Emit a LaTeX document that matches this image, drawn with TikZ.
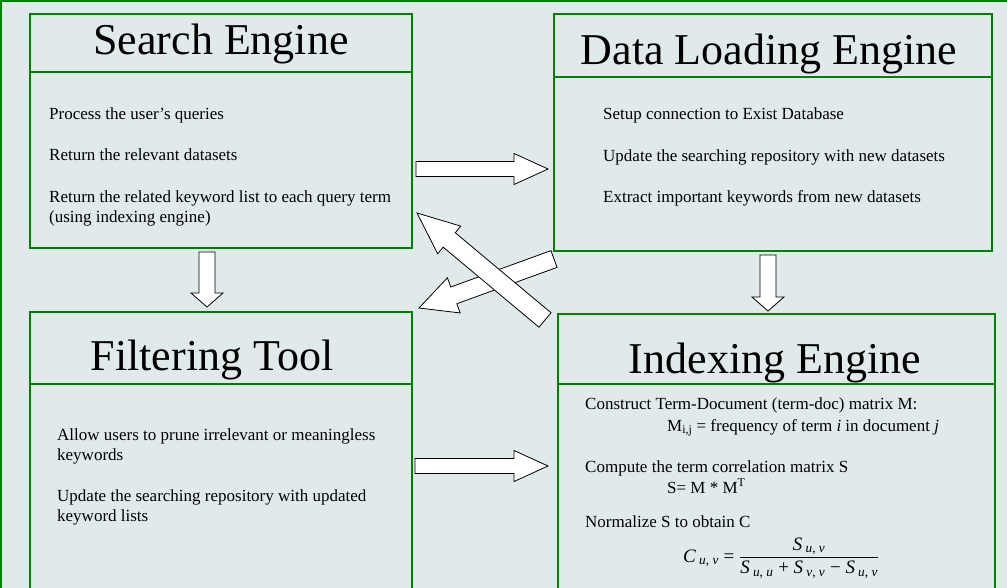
\documentclass[tikz,border=0pt]{standalone}
\usepackage{fontspec}
\setmainfont{Liberation Serif}
\usetikzlibrary{calc}

\definecolor{panel}{RGB}{225,234,235}
\definecolor{frame}{RGB}{0,128,0}

% italic symbol with italic subscript
\newcommand\subvar[3]{\textit{#1}\,\textsubscript{\textit{#2}, \textit{#3}}}

\tikzset{
    box/.style={draw=frame, line width=2.5pt, anchor=north west, inner sep=0pt, outer sep=0pt},
    heading/.style={font=\fontsize{44}{50}\selectfont, anchor=base, inner sep=0pt},
    item/.style={font=\fontsize{17}{20}\selectfont, anchor=base west, align=left, inner sep=0pt},
    blockarrow/.style n args={3}{draw=black, fill=white, line width=0.8pt, line join=miter,
        to path={let \p1=(\tikztostart), \p2=(\tikztotarget),
            \n1={atan2(\y2-\y1,\x2-\x1)} in
            ($(\p1)+(\n1+90:#1)$) -- ($(\p2)+(\n1+180:#3)+(\n1+90:#1)$)
            -- ($(\p2)+(\n1+180:#3)+(\n1+90:#2)$) -- (\p2)
            -- ($(\p2)+(\n1+180:#3)+(\n1-90:#2)$) -- ($(\p2)+(\n1+180:#3)+(\n1-90:#1)$)
            -- ($(\p1)+(\n1-90:#1)$) -- cycle}}
}

\begin{document}
\begin{tikzpicture}[x=1pt, y=-1pt]
    \useasboundingbox (0,0) rectangle (1007,588);
    \fill[panel] (0,0) rectangle (1007,588);
    \draw[frame, line width=2.5pt] (1,1) rectangle (1100,700);

    % search engine
    \node[box, minimum width=382pt, minimum height=58pt] (searchhead) at (30,14) {};
    \node[box, minimum width=382pt, minimum height=176pt] (searchbody) at (searchhead.south west) {};
    \node[heading] (searchtitle) at (221,55) {Search Engine};
    \node[item] (search1) at (49,120) {Process the user’s queries};
    \node[item] (search2) at (49,161) {Return the relevant datasets};
    \node[item] (search3) at (49,223) {Return the related keyword list to each query term\\(using indexing engine)};

    % data loading engine
    \node[box, minimum width=438pt, minimum height=63pt] (loadhead) at (554,14) {};
    \node[box, minimum width=438pt, minimum height=174pt] (loadbody) at (loadhead.south west) {};
    \node[heading] (loadtitle) at (769,65) {Data Loading Engine};
    \node[item] (load1) at (603,120) {Setup connection to Exist Database};
    \node[item] (load2) at (603,162) {Update the searching repository with new datasets};
    \node[item] (load3) at (603,203) {Extract important keywords from new datasets};

    % filtering tool
    \node[box, minimum width=382pt, minimum height=72pt] (filterhead) at (30,312) {};
    \node[box, minimum width=382pt, minimum height=300pt] (filterbody) at (filterhead.south west) {};
    \node[heading] (filtertitle) at (212,370) {Filtering Tool};
    \node[item] (filter1) at (57,460) {Allow users to prune irrelevant or meaningless\\keywords};
    \node[item] (filter2) at (57,521) {Update the searching repository with updated\\keyword lists};

    % indexing engine
    \node[box, minimum width=437pt, minimum height=70pt] (indexhead) at (558,314) {};
    \node[box, minimum width=437pt, minimum height=300pt] (indexbody) at (indexhead.south west) {};
    \node[heading] (indextitle) at (775,373) {Indexing Engine};
    \node[item] (index1) at (585,409) {Construct Term-Document (term-doc) matrix M:};
    \node[item] (index2) at (667,431) {M\textsubscript{i,j} = frequency of term \textit{i} in document \textit{j}};
    \node[item] (index3) at (585,472) {Compute the term correlation matrix S};
    \node[item] (index4) at (667,493) {S= M * M\textsuperscript{T}};
    \node[item] (index5) at (585,527) {Normalize S to obtain C};
    \node[item, font=\fontsize{19}{22}\selectfont] (index6) at (683,562)
        {$\mbox{\subvar{C}{u}{v} =}\;\displaystyle\frac{\mbox{\subvar{S}{u}{v}}}
        {\mbox{\subvar{S}{u}{u} + \subvar{S}{v}{v} − \subvar{S}{u}{v}}}$};

    % block arrows
    \coordinate (sl1) at (416,169);
    \coordinate (sl2) at (548,169);
    \coordinate (sf1) at (207,252);
    \coordinate (sf2) at (207,307);
    \coordinate (li1) at (768,255);
    \coordinate (li2) at (768,311);
    \coordinate (fi1) at (415,466);
    \coordinate (fi2) at (548,466);
    \coordinate (lf1) at (554,259);
    \coordinate (lf2) at (419,308);
    \coordinate (is1) at (545,320);
    \coordinate (is2) at (417,213);

    \draw[blockarrow={7.5pt}{15.5pt}{34pt}] (sl1) to (sl2);
    \draw[blockarrow={7.5pt}{15.5pt}{34pt}] (fi1) to (fi2);
    \draw[blockarrow={8pt}{16pt}{14pt}] (sf1) to (sf2);
    \draw[blockarrow={8pt}{16pt}{14pt}] (li1) to (li2);
    \draw[blockarrow={8.9pt}{18.7pt}{37pt}] (lf1) to (lf2);
    \draw[blockarrow={9.4pt}{18pt}{42pt}] (is1) to (is2);
\end{tikzpicture}
\end{document}
